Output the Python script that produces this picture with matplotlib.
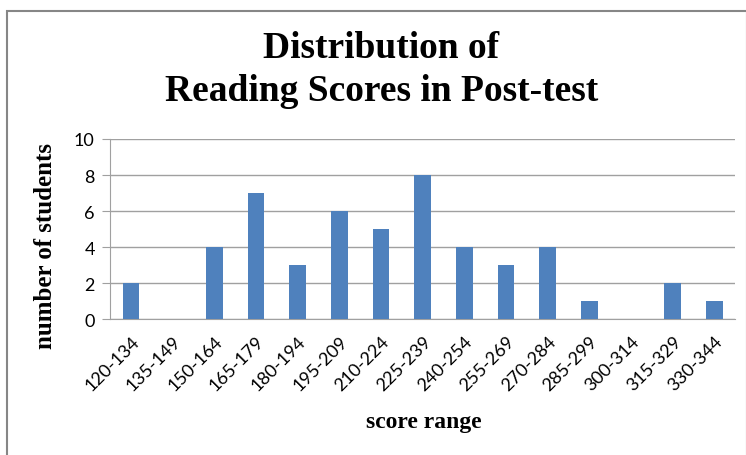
import matplotlib.pyplot as plt
from matplotlib.patches import Rectangle

ranges = ["120-134", "135-149", "150-164", "165-179", "180-194", "195-209",
          "210-224", "225-239", "240-254", "255-269", "270-284", "285-299",
          "300-314", "315-329", "330-344"]
students = [2, 0, 4, 7, 3, 6, 5, 8, 4, 3, 4, 1, 0, 2, 1]

fig = plt.figure(figsize=(7.46, 4.56), dpi=100)
ax = fig.add_axes([0.1475, 0.298, 0.838, 0.395])

# outer chart border
fig.patches.append(Rectangle((7 / 746, -0.05), 740 / 746, 1.05 - 12 / 456,
                             transform=fig.transFigure, fill=False,
                             edgecolor='#868686', linewidth=1.5))

x = range(len(ranges))
ax.bar(x, students, width=0.4, color='#4F81BD', zorder=3)

ax.set_xlim(-0.5, len(ranges) - 0.5)
ax.set_ylim(0, 10)
ax.set_yticks([0, 2, 4, 6, 8, 10])
ax.yaxis.grid(True, color='#A0A0A0', linewidth=1)
ax.set_axisbelow(True)

for s in ['top', 'right']:
    ax.spines[s].set_visible(False)
for s in ['left', 'bottom']:
    ax.spines[s].set_color('#A0A0A0')

ax.set_xticks(list(x))
ax.set_xticklabels(ranges, rotation=45, ha='right', rotation_mode='anchor',
                   fontsize=13, family='Lato')
ax.tick_params(axis='x', length=0, pad=10)
ax.tick_params(axis='y', length=6, color='#A0A0A0', labelsize=13, pad=5)
for t in ax.get_yticklabels():
    t.set_family('Lato')

ax.set_xlabel("score range", family='Liberation Serif', fontweight='bold',
              fontsize=17)
ax.xaxis.set_label_coords(0.502, -0.51)
ax.set_ylabel("number of students", family='Liberation Serif',
              fontweight='bold', fontsize=18)
ax.yaxis.set_label_coords(-0.085, 0.41)

fig.text(0.511, 0.846, "Distribution of\nReading Scores in Post-test",
         ha='center', va='center', family='Liberation Serif',
         fontweight='bold', fontsize=27, linespacing=1.3)

fig.savefig("out.png", dpi=100)
